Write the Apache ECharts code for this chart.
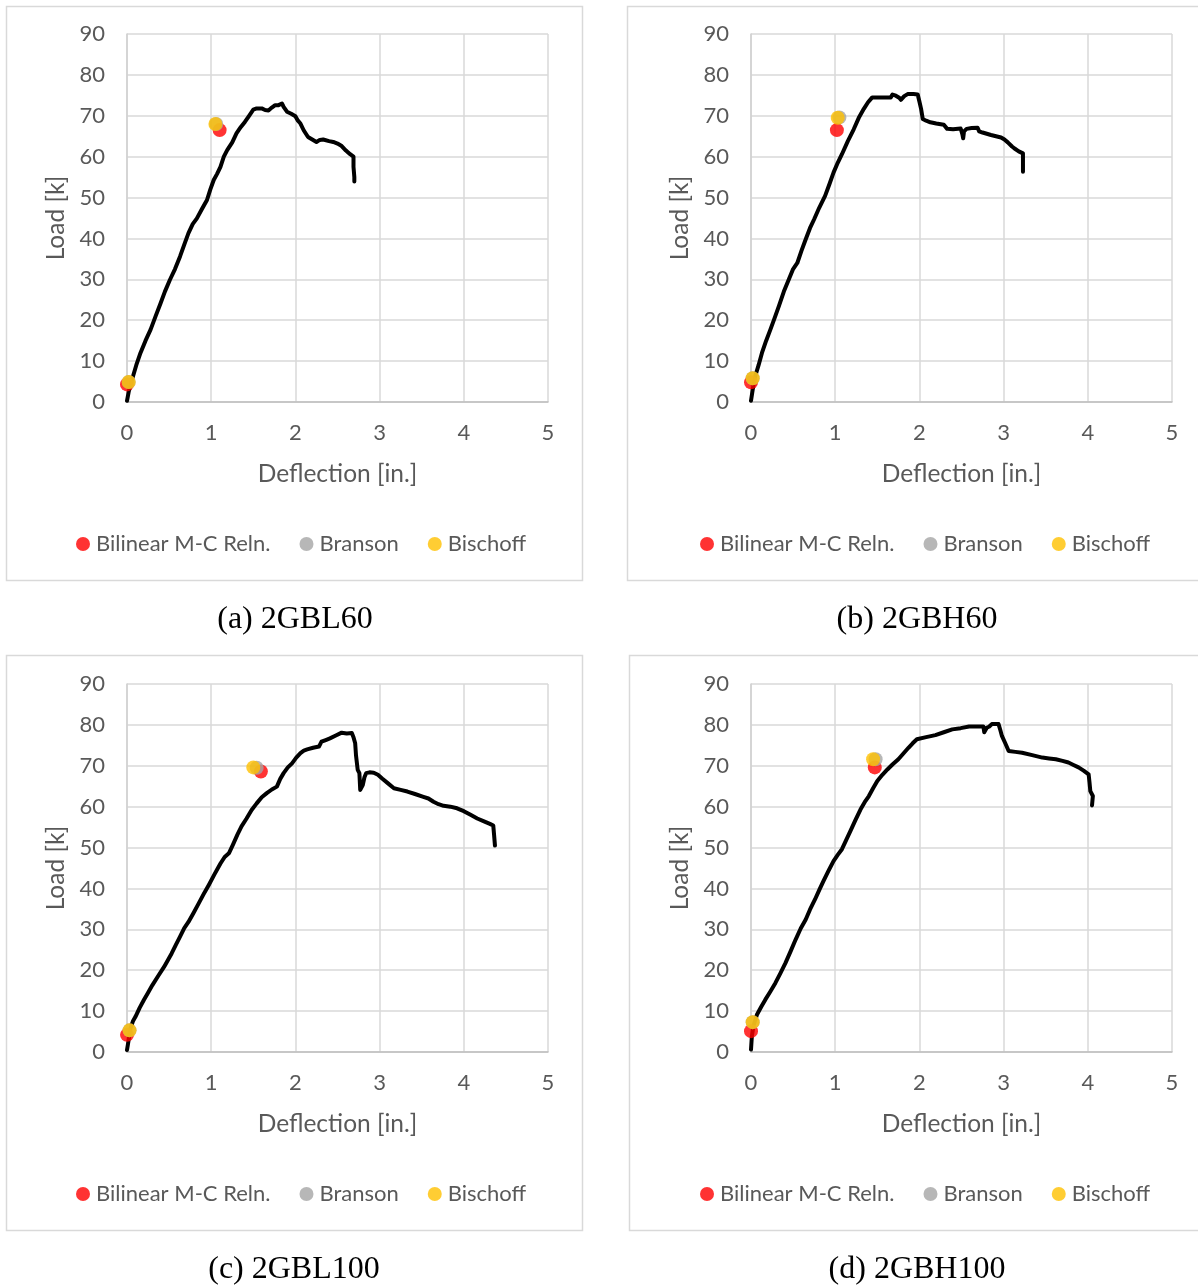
<!DOCTYPE html>
<html>
<head>
<meta charset="utf-8">
<script src="https://cdn.jsdelivr.net/npm/echarts@6/dist/echarts.min.js"></script>
<style>
  html, body { margin: 0; padding: 0; background: #ffffff; }
  #chart { width: 1198px; height: 1287px; }
</style>
</head>
<body>
<div id="chart"></div>
<script>
// Load–deflection test curves [deflection (in.), load (k)] for each girder
const curve2GBL60 = [[0,0.3],[0.02,2.5],[0.06,5.5],[0.11,9],[0.16,12],[0.22,15],[0.28,17.7],[0.34,21],[0.40,24.2],[0.45,27],[0.51,29.9],[0.57,32.5],[0.63,35.6],[0.68,38.5],[0.73,41.3],[0.78,43.5],[0.83,44.9],[0.89,47.2],[0.95,49.4],[0.99,52],[1.03,54.3],[1.07,55.8],[1.11,57.5],[1.15,60],[1.19,61.6],[1.25,63.5],[1.30,65.7],[1.35,67.2],[1.40,68.5],[1.45,70],[1.50,71.5],[1.54,71.8],[1.60,71.8],[1.64,71.4],[1.68,71.3],[1.72,72],[1.76,72.6],[1.80,72.6],[1.84,73],[1.86,72.2],[1.90,71],[1.95,70.5],[2.00,69.9],[2.03,68.8],[2.06,68.1],[2.10,66.4],[2.15,64.8],[2.20,64.2],[2.25,63.6],[2.29,64.1],[2.33,64.2],[2.40,63.8],[2.45,63.6],[2.50,63.2],[2.55,62.6],[2.60,61.5],[2.65,60.6],[2.69,60],[2.69,57.5],[2.70,55],[2.70,53.9]];
const curve2GBH60 = [[0,0.3],[0.02,3],[0.05,6.3],[0.09,9],[0.13,12],[0.18,15],[0.23,17.7],[0.28,20.5],[0.33,23.4],[0.39,27],[0.45,30],[0.50,32.5],[0.55,34],[0.60,37],[0.65,39.8],[0.70,42.5],[0.75,44.7],[0.81,47.5],[0.88,50.4],[0.93,53.2],[0.98,56.1],[1.03,58.5],[1.08,60.6],[1.15,63.8],[1.22,66.7],[1.28,69.5],[1.34,71.7],[1.39,73.3],[1.44,74.5],[1.55,74.5],[1.66,74.5],[1.68,75.2],[1.72,74.9],[1.76,74.4],[1.78,73.9],[1.82,74.8],[1.86,75.3],[1.93,75.3],[1.98,75.2],[2.00,73.5],[2.02,71.7],[2.04,69.2],[2.08,68.8],[2.13,68.4],[2.20,68.1],[2.29,67.8],[2.33,66.8],[2.40,66.7],[2.49,66.9],[2.51,65.5],[2.52,64.5],[2.53,66.2],[2.56,66.8],[2.62,67],[2.69,67.1],[2.71,66.2],[2.75,65.9],[2.85,65.3],[2.97,64.7],[3.01,64.2],[3.05,63.5],[3.10,62.5],[3.13,62],[3.18,61.3],[3.23,60.8],[3.23,58.5],[3.23,56.3]];
const curve2GBL100 = [[0,0.5],[0.02,3],[0.04,5.7],[0.07,7.5],[0.10,8.6],[0.15,10.8],[0.20,12.7],[0.25,14.5],[0.30,16.3],[0.37,18.6],[0.44,20.8],[0.49,22.6],[0.53,24.1],[0.58,26.2],[0.63,28.2],[0.68,30.3],[0.73,31.8],[0.79,34],[0.85,36.3],[0.91,38.6],[0.97,40.8],[1.04,43.5],[1.11,46.1],[1.16,47.7],[1.21,48.6],[1.26,50.8],[1.31,53.1],[1.36,55.2],[1.42,57.1],[1.48,59.2],[1.54,60.8],[1.60,62.3],[1.66,63.3],[1.72,64.2],[1.78,64.9],[1.82,66.8],[1.86,68.2],[1.91,69.6],[1.96,70.6],[2.01,72],[2.06,73.1],[2.10,73.7],[2.14,74],[2.21,74.4],[2.28,74.7],[2.31,75.9],[2.36,76.3],[2.41,76.7],[2.48,77.4],[2.55,78.1],[2.61,77.9],[2.67,78],[2.69,77],[2.71,75.5],[2.72,72.5],[2.74,69],[2.76,68.2],[2.77,64.1],[2.79,64.5],[2.80,65.3],[2.82,67.2],[2.84,68.2],[2.88,68.4],[2.93,68.3],[2.98,67.8],[3.03,66.9],[3.10,65.7],[3.17,64.5],[3.25,64.1],[3.33,63.7],[3.42,63.1],[3.52,62.4],[3.58,62],[3.64,61.2],[3.70,60.6],[3.76,60.2],[3.84,60],[3.92,59.6],[4.00,58.9],[4.08,58],[4.16,57.1],[4.24,56.4],[4.31,55.8],[4.35,55.4],[4.36,53],[4.37,50.5]];
const curve2GBH100 = [[0,0.6],[0.01,3.8],[0.03,6.5],[0.07,9.1],[0.12,11],[0.17,12.8],[0.23,14.8],[0.29,16.9],[0.35,19.3],[0.41,21.8],[0.47,24.6],[0.53,27.5],[0.59,30.2],[0.65,32.4],[0.70,34.8],[0.76,37.3],[0.81,39.6],[0.86,41.8],[0.92,44.3],[0.98,46.7],[1.03,48.2],[1.08,49.6],[1.13,51.8],[1.18,54],[1.24,56.7],[1.30,59.3],[1.35,61.1],[1.40,62.6],[1.45,64.5],[1.50,66.3],[1.56,67.8],[1.62,69.1],[1.68,70.3],[1.75,71.6],[1.81,73],[1.87,74.4],[1.92,75.5],[1.97,76.5],[2.08,77],[2.19,77.5],[2.29,78.2],[2.39,78.9],[2.49,79.2],[2.59,79.6],[2.68,79.6],[2.76,79.6],[2.77,78.2],[2.79,78.6],[2.80,79.3],[2.83,79.6],[2.86,80.2],[2.94,80.2],[2.96,78.8],[2.98,77.3],[3.02,75.5],[3.06,73.6],[3.14,73.4],[3.22,73.2],[3.34,72.6],[3.46,72],[3.54,71.8],[3.62,71.6],[3.70,71.2],[3.77,70.8],[3.83,70.2],[3.89,69.6],[3.95,68.8],[4.01,67.9],[4.02,66],[4.03,63.8],[4.06,62.6],[4.05,60.3]];

// Predicted cracking and ultimate points [deflection, load] by method
const bilinear2GBL60 = [[0,4.3],[1.10,66.5]];
const branson2GBL60  = [[0.02,4.9],[1.06,68]];
const bischoff2GBL60 = [[0.02,4.9],[1.05,68]];

const bilinear2GBH60 = [[0,4.8],[1.02,66.5]];
const branson2GBH60  = [[0.02,5.8],[1.05,69.6]];
const bischoff2GBH60 = [[0.02,5.8],[1.03,69.5]];

const bilinear2GBL100 = [[0,4.2],[1.59,68.6]];
const branson2GBL100  = [[0.03,5.3],[1.54,69.5]];
const bischoff2GBL100 = [[0.03,5.3],[1.50,69.6]];

const bilinear2GBH100 = [[0,5.1],[1.47,69.6]];
const branson2GBH100  = [[0.02,7.3],[1.48,71.6]];
const bischoff2GBH100 = [[0.02,7.3],[1.45,71.6]];

const panelCaptions = ['(a) 2GBL60', '(b) 2GBH60', '(c) 2GBL100', '(d) 2GBH100'];
const methodNames = ['Bilinear M-C Reln.', 'Branson', 'Bischoff'];
const xAxisTitle = 'Deflection [in.]';
const yAxisTitle = 'Load [k]';

const panels = [
  { caption: panelCaptions[0], curve: curve2GBL60,  pts: [bilinear2GBL60,  branson2GBL60,  bischoff2GBL60] },
  { caption: panelCaptions[1], curve: curve2GBH60,  pts: [bilinear2GBH60,  branson2GBH60,  bischoff2GBH60] },
  { caption: panelCaptions[2], curve: curve2GBL100, pts: [bilinear2GBL100, branson2GBL100, bischoff2GBL100] },
  { caption: panelCaptions[3], curve: curve2GBH100, pts: [bilinear2GBH100, branson2GBH100, bischoff2GBH100] }
];

// Layout of the 2x2 arrangement
const layout = [
  { gridLeft: 127, gridTop: 34,  box: [6.5, 6.5, 576, 574],   legendLeft: 76,  legendTop: 533,  capX: 295, capY: 620 },
  { gridLeft: 751, gridTop: 34,  box: [627.5, 6.5, 590, 574], legendLeft: 700, legendTop: 533,  capX: 917, capY: 620 },
  { gridLeft: 127, gridTop: 684, box: [6.5, 655.5, 576, 575], legendLeft: 76,  legendTop: 1183, capX: 294, capY: 1270 },
  { gridLeft: 751, gridTop: 684, box: [629.5, 655.5, 590, 575], legendLeft: 700, legendTop: 1183, capX: 917, capY: 1270 }
];

const textGray = '#595959';
const uiFont = 'Lato';
const methodColors = ['#ff0000', '#a5a5a5', '#ffc000'];

const grid = [], xAxis = [], yAxis = [], series = [], legend = [], graphic = [];

panels.forEach((p, i) => {
  const L = layout[i];
  grid.push({ left: L.gridLeft, top: L.gridTop, width: 421, height: 368 });

  xAxis.push({
    type: 'value', gridIndex: i, min: 0, max: 5, interval: 1,
    name: xAxisTitle, nameLocation: 'middle', nameGap: 60,
    nameTextStyle: { color: textGray, fontFamily: uiFont, fontSize: 24.5 },
    axisLine: { show: true, lineStyle: { color: '#bfbfbf', width: 1.5 } },
    axisTick: { show: false },
    axisLabel: { color: textGray, fontFamily: uiFont, fontSize: 22, margin: 20 },
    splitLine: { show: true, lineStyle: { color: '#d9d9d9', width: 1.5 } }
  });

  yAxis.push({
    type: 'value', gridIndex: i, min: 0, max: 90, interval: 10,
    name: yAxisTitle, nameLocation: 'middle', nameGap: 58, nameRotate: 90,
    nameTextStyle: { color: textGray, fontFamily: uiFont, fontSize: 24.5 },
    axisLine: { show: true, lineStyle: { color: '#d0d0d0', width: 1.5 } },
    axisTick: { show: false },
    axisLabel: { color: textGray, fontFamily: uiFont, fontSize: 22, margin: 22 },
    splitLine: { show: true, lineStyle: { color: '#d9d9d9', width: 1.5 } }
  });

  series.push({
    type: 'line', name: 'Test ' + p.caption, xAxisIndex: i, yAxisIndex: i,
    data: p.curve, showSymbol: false, symbol: 'none', smooth: false,
    lineStyle: { color: '#000000', width: 4, join: 'round', cap: 'round' },
    z: 2
  });

  methodNames.forEach((m, k) => {
    series.push({
      type: 'scatter', name: m, xAxisIndex: i, yAxisIndex: i,
      data: p.pts[k], symbol: 'circle', symbolSize: 14,
      itemStyle: { color: methodColors[k] },
      z: 3 + k
    });
  });

  legend.push({
    data: methodNames.map((m, k) => ({ name: m, icon: 'circle', itemStyle: { color: methodColors[k] } })),
    left: L.legendLeft, top: L.legendTop, orient: 'horizontal', padding: 0,
    itemWidth: 14, itemHeight: 14, itemGap: 29,
    textStyle: { color: textGray, fontFamily: uiFont, fontSize: 22, padding: [0, 0, 0, 1] },
    selectedMode: false
  });

  graphic.push({
    type: 'rect', shape: { x: L.box[0], y: L.box[1], width: L.box[2], height: L.box[3] },
    style: { fill: 'none', stroke: '#d9d9d9', lineWidth: 1.5 }, silent: true, z: -10
  });
  graphic.push({
    type: 'text', x: L.capX, y: L.capY,
    style: { text: p.caption, font: '32px "Liberation Serif"', fill: '#000000', textAlign: 'center', textVerticalAlign: 'middle' },
    silent: true
  });
});

const chart = echarts.init(document.getElementById('chart'), null, { renderer: 'canvas' });
chart.setOption({
  backgroundColor: '#ffffff',
  animation: false,
  grid, xAxis, yAxis, series, legend, graphic
});
</script>
</body>
</html>
